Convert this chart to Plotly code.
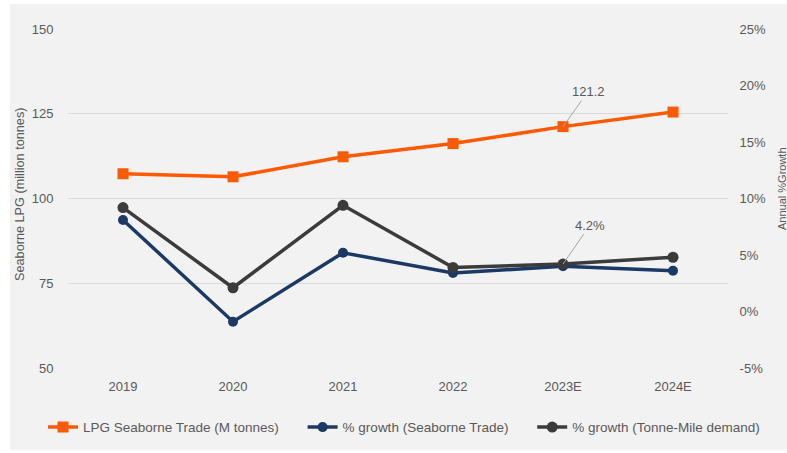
import plotly.graph_objects as go

categories = ["2019", "2020", "2021", "2022", "2023E", "2024E"]
trade_mt = [107.3, 106.4, 112.3, 116.2, 121.2, 125.5]
growth_trade = [8.1, -0.9, 5.2, 3.4, 4.0, 3.6]
growth_tonne_mile = [9.2, 2.1, 9.4, 3.9, 4.2, 4.8]

left_ticks = [50, 75, 100, 125, 150]
right_ticks = [-5, 0, 5, 10, 15, 20, 25]
right_tick_text = [f"{v}%" for v in right_ticks]

ORANGE = "#ff5a00"
NAVY = "#1c3966"
DARK = "#3b3b3b"
TXT = "#595959"
FONT = "Liberation Sans"
PAD = "\u00a0" * 5

fig = go.Figure()
fig.add_trace(go.Scatter(
    x=categories, y=trade_mt, name="LPG Seaborne Trade (M tonnes)" + PAD,
    mode="lines+markers", line=dict(color=ORANGE, width=3.5),
    marker=dict(symbol="square", size=11, color=ORANGE), yaxis="y"))
fig.add_trace(go.Scatter(
    x=categories, y=growth_trade, name="% growth (Seaborne Trade)" + PAD,
    mode="lines+markers", line=dict(color=NAVY, width=3.5),
    marker=dict(symbol="circle", size=10, color=NAVY), yaxis="y2"))
fig.add_trace(go.Scatter(
    x=categories, y=growth_tonne_mile, name="% growth (Tonne-Mile demand)",
    mode="lines+markers", line=dict(color=DARK, width=3.5),
    marker=dict(symbol="circle", size=11, color=DARK), yaxis="y2"))

fig.update_layout(
    width=787, height=453,
    margin=dict(l=68, r=59, t=29, b=85, autoexpand=False),
    paper_bgcolor="white",
    plot_bgcolor="rgba(0,0,0,0)",
    font=dict(family=FONT, size=13, color=TXT),
    showlegend=True,
    legend=dict(orientation="h", x=(43 - 68) / 660, xanchor="left",
                y=-0.175, yanchor="middle",
                font=dict(size=13.5, color=TXT), bgcolor="rgba(0,0,0,0)"),
    xaxis=dict(range=[-0.5, 5.5], showgrid=False, zeroline=False, showline=False,
               ticks="outside", ticklen=6, tickcolor="rgba(0,0,0,0)",
               tickfont=dict(size=13, color=TXT), automargin=False),
    yaxis=dict(range=[50, 150], tickvals=left_ticks, showgrid=True, gridcolor="#dadada",
               gridwidth=1, zeroline=False, showline=False, ticks="outside", ticklen=11,
               tickcolor="rgba(0,0,0,0)", tickfont=dict(size=13, color=TXT), automargin=False),
    yaxis2=dict(range=[-5, 25], tickvals=right_ticks, ticktext=right_tick_text,
                overlaying="y", side="right", showgrid=False, zeroline=False,
                showline=False, ticks="outside", ticklen=8, tickcolor="rgba(0,0,0,0)",
                tickfont=dict(size=13, color=TXT), automargin=False),
    shapes=[dict(type="rect", xref="paper", yref="paper", x0=(10 - 68) / 660, x1=(790 - 68) / 660,
                 y0=(368 - 450) / 339, y1=(368 - 4) / 339, fillcolor="#f2f2f2",
                 line=dict(width=0), layer="below")],
    annotations=[
        dict(x="2023E", y=trade_mt[4], xref="x", yref="y", text=f"{trade_mt[4]}",
             showarrow=True, arrowhead=0, arrowwidth=1, arrowcolor="#a6a6a6",
             ax=25, ay=-35, font=dict(size=13, color=TXT)),
        dict(x="2023E", y=growth_tonne_mile[4], xref="x", yref="y2",
             text=f"{growth_tonne_mile[4]}%", showarrow=True, arrowhead=0, arrowwidth=1,
             arrowcolor="#a6a6a6", ax=27, ay=-39, font=dict(size=13, color=TXT)),
        dict(x=(20 - 68) / 660, y=(368 - 194) / 339, xref="paper", yref="paper",
             xanchor="center", yanchor="middle",
             text="Seaborne LPG (million tonnes)", textangle=-90, showarrow=False,
             font=dict(size=12.7, color=TXT)),
        dict(x=(782 - 68) / 660, y=(368 - 189) / 339, xref="paper", yref="paper",
             xanchor="center", yanchor="middle",
             text="Annual %Growth", textangle=-90, showarrow=False,
             font=dict(size=11, color=TXT)),
    ],
)

fig.write_html("out.html", config={"displayModeBar": False},
               post_script="document.body.style.margin='0';")
